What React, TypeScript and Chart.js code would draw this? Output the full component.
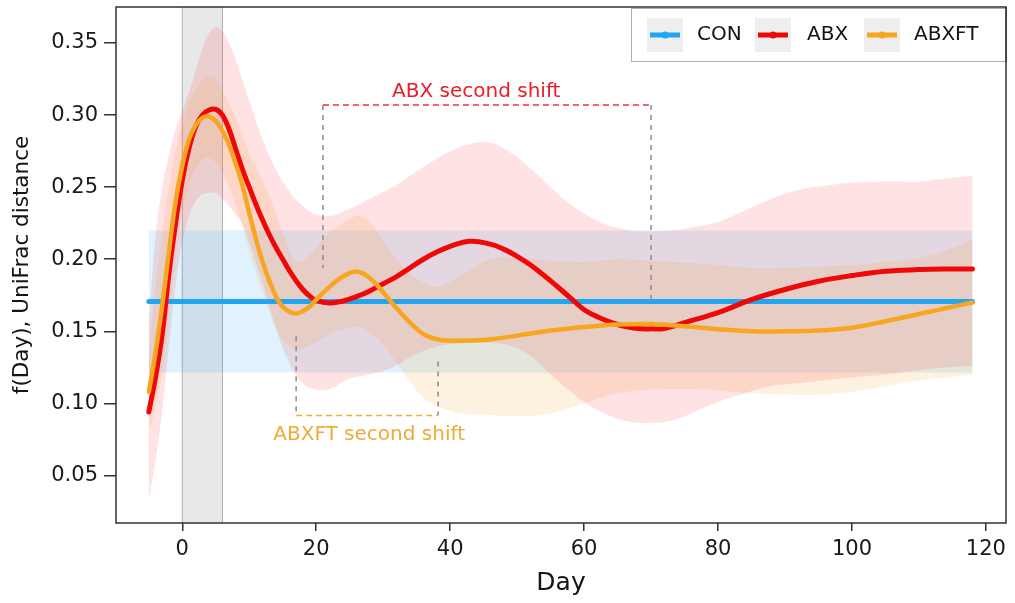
import React, { useEffect, useRef } from "react";
import { Chart, registerables } from "chart.js";
Chart.register(...registerables);

// ---------- axes ----------
const xTicks = [0, 20, 40, 60, 80, 100, 120];
const yTicks = [0.05, 0.1, 0.15, 0.2, 0.25, 0.3, 0.35];
const xMin = -9.9;
const xMax = 123;
const yMin = 0.017;
const yMax = 0.375;
const shadeDays = [0, 6];

// ---------- CON ----------
const conDays = [-5, 118];
const conMean = [0.1706, 0.1706];
const conUpper = [0.22, 0.22];
const conLower = [0.1215, 0.1215];

// ---------- ABX mean ----------
const abxDays = [-5, -4, -3, -2, -1, 0, 1, 2, 3, 4, 5, 6, 7, 8, 9, 10, 11, 12, 13, 14, 15, 16, 17, 18, 19, 20, 22, 24, 26, 28, 30, 32, 34, 36, 38, 40, 43, 46, 48, 50, 52, 55, 58, 60, 62, 65, 68, 70, 72, 75, 80, 85, 90, 95, 100, 105, 110, 114, 118];
const abxMean = [0.094, 0.118, 0.148, 0.19, 0.225, 0.255, 0.277, 0.292, 0.3, 0.3035, 0.304, 0.3, 0.29, 0.276, 0.262, 0.25, 0.238, 0.227, 0.217, 0.208, 0.2, 0.192, 0.185, 0.179, 0.1745, 0.1715, 0.1697, 0.171, 0.174, 0.178, 0.183, 0.188, 0.194, 0.2, 0.205, 0.209, 0.2125, 0.2105, 0.207, 0.202, 0.196, 0.185, 0.173, 0.165, 0.16, 0.1547, 0.152, 0.1517, 0.152, 0.156, 0.163, 0.172, 0.179, 0.1847, 0.1887, 0.1917, 0.1928, 0.1932, 0.1933];

// ---------- ABX band ----------
const abxBandDays = [-5, -4, -3, -2, -1, 0, 1, 2, 3, 4, 5, 6, 7, 8, 9, 10, 12, 14, 16, 18, 20, 22, 25, 28, 31, 34, 37, 40, 43, 46, 49, 52, 55, 58, 61, 64, 67, 70, 73, 76, 80, 84, 88, 92, 96, 100, 105, 110, 114, 118];
const abxUpper = [0.155, 0.215, 0.25, 0.272, 0.29, 0.303, 0.316, 0.331, 0.346, 0.357, 0.361, 0.358, 0.35, 0.338, 0.324, 0.31, 0.283, 0.262, 0.247, 0.237, 0.231, 0.23, 0.235, 0.242, 0.249, 0.258, 0.267, 0.275, 0.28, 0.281, 0.274, 0.263, 0.25, 0.238, 0.229, 0.223, 0.22, 0.2194, 0.22, 0.222, 0.226, 0.234, 0.242, 0.248, 0.251, 0.253, 0.254, 0.254, 0.256, 0.258];
const abxLower = [0.033, 0.06, 0.095, 0.14, 0.182, 0.212, 0.23, 0.24, 0.245, 0.246, 0.246, 0.242, 0.237, 0.231, 0.224, 0.212, 0.183, 0.152, 0.128, 0.114, 0.1095, 0.11, 0.117, 0.12, 0.124, 0.132, 0.138, 0.141, 0.142, 0.142, 0.14, 0.133, 0.12, 0.108, 0.098, 0.091, 0.087, 0.0865, 0.088, 0.093, 0.101, 0.107, 0.112, 0.114, 0.116, 0.118, 0.12, 0.123, 0.125, 0.126];

// ---------- ABXFT mean ----------
const abxftDays = [-5, -4, -3, -2, -1, 0, 1, 2, 3, 4, 5, 6, 7, 8, 9, 10, 11, 12, 13, 14, 15, 16, 17, 18, 19, 20, 22, 24, 26, 28, 30, 32, 34, 36, 38, 40, 45, 50, 55, 60, 65, 70, 75, 80, 85, 90, 95, 100, 105, 110, 114, 118];
const abxftMean = [0.108, 0.135, 0.168, 0.205, 0.24, 0.265, 0.283, 0.293, 0.298, 0.299, 0.296, 0.289, 0.279, 0.266, 0.251, 0.232, 0.214, 0.198, 0.185, 0.174, 0.167, 0.1635, 0.1623, 0.164, 0.167, 0.172, 0.181, 0.188, 0.1915, 0.187, 0.177, 0.166, 0.156, 0.148, 0.1445, 0.1435, 0.144, 0.147, 0.1505, 0.153, 0.1547, 0.155, 0.1535, 0.1515, 0.15, 0.15, 0.1505, 0.1525, 0.157, 0.162, 0.166, 0.17];

// ---------- ABXFT band ----------
const abxftBandDays = [-5, -4, -3, -2, -1, 0, 1, 2, 3, 4, 5, 6, 7, 8, 9, 10, 11, 12, 13, 14, 15, 17, 19, 21, 23, 26, 28, 30, 32, 34, 36, 38, 42, 46, 50, 55, 60, 65, 70, 75, 80, 85, 90, 95, 100, 105, 110, 114, 118];
const abxftUpper = [0.135, 0.18, 0.218, 0.25, 0.275, 0.294, 0.308, 0.318, 0.324, 0.327, 0.325, 0.317, 0.308, 0.298, 0.286, 0.274, 0.264, 0.255, 0.244, 0.231, 0.219, 0.198, 0.203, 0.214, 0.222, 0.23, 0.226, 0.213, 0.2, 0.19, 0.184, 0.181, 0.19, 0.2, 0.201, 0.199, 0.198, 0.2, 0.199, 0.1975, 0.196, 0.194, 0.194, 0.195, 0.196, 0.198, 0.201, 0.206, 0.2137];
const abxftLower = [0.08, 0.097, 0.122, 0.16, 0.2, 0.232, 0.252, 0.263, 0.269, 0.27, 0.267, 0.26, 0.25, 0.237, 0.222, 0.205, 0.19, 0.176, 0.163, 0.152, 0.144, 0.137, 0.14, 0.145, 0.15, 0.153, 0.149, 0.141, 0.128, 0.115, 0.104, 0.098, 0.093, 0.092, 0.091, 0.093, 0.1, 0.107, 0.1095, 0.11, 0.109, 0.107, 0.106, 0.106, 0.108, 0.112, 0.116, 0.118, 0.12];

// ---------- annotations ----------
const abxShiftDays = [21, 70];
const abxShiftTop = 0.307;
const abxShiftBottoms = [0.194, 0.1685];
const abxShiftLabel = "ABX second shift";
const abxShiftLabelAt = [43.9, 0.3163];

const abxftShiftDays = [17, 38.2];
const abxftShiftBottom = 0.0915;
const abxftShiftTops = [0.1465, 0.129];
const abxftShiftLabel = "ABXFT second shift";
const abxftShiftLabelAt = [27.9, 0.0783];

const legendNames = ["CON", "ABX", "ABXFT"];

const C_BLUE = "rgb(33,166,243)";
const C_RED = "rgb(240,8,8)";
const C_ORANGE = "rgb(246,166,32)";
const FONT = "'DejaVu Sans', sans-serif";

const pts = (xs: number[], ys: number[]) => xs.map((x, i) => ({ x, y: ys[i] }));

const overlay = {
  id: "overlay",
  beforeDatasetsDraw(chart: any) {
    const { ctx, chartArea: a, scales } = chart;
    const x = scales.x;
    const x0 = x.getPixelForValue(shadeDays[0]);
    const x1 = x.getPixelForValue(shadeDays[1]);
    ctx.save();
    ctx.fillStyle = "rgba(150,150,150,0.22)";
    ctx.fillRect(x0, a.top, x1 - x0, a.bottom - a.top);
    ctx.strokeStyle = "rgba(120,120,120,0.55)";
    ctx.lineWidth = 1;
    ctx.beginPath();
    ctx.moveTo(x0, a.top);
    ctx.lineTo(x0, a.bottom);
    ctx.moveTo(x1, a.top);
    ctx.lineTo(x1, a.bottom);
    ctx.stroke();
    ctx.restore();
  },
  afterDraw(chart: any) {
    const { ctx, chartArea: a, scales } = chart;
    const X = (v: number) => scales.x.getPixelForValue(v);
    const Y = (v: number) => scales.y.getPixelForValue(v);
    ctx.save();
    ctx.lineWidth = 1.5;
    ctx.setLineDash([5, 5]);
    ctx.strokeStyle = "rgb(140,140,140)";
    ctx.beginPath();
    ctx.moveTo(X(abxShiftDays[0]), Y(abxShiftTop));
    ctx.lineTo(X(abxShiftDays[0]), Y(abxShiftBottoms[0]));
    ctx.moveTo(X(abxShiftDays[1]), Y(abxShiftTop));
    ctx.lineTo(X(abxShiftDays[1]), Y(abxShiftBottoms[1]));
    ctx.moveTo(X(abxftShiftDays[0]), Y(abxftShiftTops[0]));
    ctx.lineTo(X(abxftShiftDays[0]), Y(abxftShiftBottom));
    ctx.moveTo(X(abxftShiftDays[1]), Y(abxftShiftTops[1]));
    ctx.lineTo(X(abxftShiftDays[1]), Y(abxftShiftBottom));
    ctx.stroke();
    ctx.setLineDash([6, 4]);
    ctx.strokeStyle = "rgb(232,50,60)";
    ctx.beginPath();
    ctx.moveTo(X(abxShiftDays[0]), Y(abxShiftTop));
    ctx.lineTo(X(abxShiftDays[1]), Y(abxShiftTop));
    ctx.stroke();
    ctx.strokeStyle = "rgb(240,172,60)";
    ctx.beginPath();
    ctx.moveTo(X(abxftShiftDays[0]), Y(abxftShiftBottom));
    ctx.lineTo(X(abxftShiftDays[1]), Y(abxftShiftBottom));
    ctx.stroke();
    ctx.setLineDash([]);
    ctx.font = `20px ${FONT}`;
    ctx.textAlign = "center";
    ctx.textBaseline = "middle";
    ctx.fillStyle = "rgb(232,30,40)";
    ctx.fillText(abxShiftLabel, X(abxShiftLabelAt[0]), Y(abxShiftLabelAt[1]));
    ctx.fillStyle = "rgb(240,170,55)";
    ctx.fillText(abxftShiftLabel, X(abxftShiftLabelAt[0]), Y(abxftShiftLabelAt[1]));

    // frame
    ctx.strokeStyle = "rgb(50,50,50)";
    ctx.lineWidth = 1.5;
    ctx.strokeRect(a.left, a.top, a.right - a.left, a.bottom - a.top);

    // legend
    const bw = 375;
    const bh = 54;
    const bx = a.right - bw;
    const by = a.top + 1;
    ctx.fillStyle = "#fff";
    ctx.fillRect(bx, by, bw, bh);
    ctx.strokeStyle = "rgb(175,175,175)";
    ctx.lineWidth = 1;
    ctx.strokeRect(bx + 0.5, by + 0.5, bw - 1, bh - 1);
    ctx.strokeStyle = "rgb(50,50,50)";
    ctx.lineWidth = 1.5;
    ctx.beginPath();
    ctx.moveTo(a.right, a.top);
    ctx.lineTo(a.right, by + bh);
    ctx.stroke();
    const colors = [C_BLUE, C_RED, C_ORANGE];
    const sw = [16, 124, 233];
    const tx = [66, 176, 283];
    ctx.font = `20px ${FONT}`;
    ctx.textAlign = "left";
    ctx.textBaseline = "middle";
    const cy = by + 27;
    legendNames.forEach((name, i) => {
      const sx = bx + sw[i];
      ctx.fillStyle = "rgb(238,238,238)";
      ctx.fillRect(sx, cy - 17, 36, 34);
      ctx.strokeStyle = colors[i];
      ctx.lineWidth = 5;
      ctx.lineCap = "butt";
      ctx.beginPath();
      ctx.moveTo(sx + 3, cy);
      ctx.lineTo(sx + 33, cy);
      ctx.stroke();
      ctx.fillStyle = colors[i];
      ctx.beginPath();
      ctx.arc(sx + 18, cy, 3.5, 0, Math.PI * 2);
      ctx.fill();
      ctx.fillStyle = "rgb(20,20,20)";
      ctx.fillText(name, bx + tx[i], cy);
    });
    ctx.restore();
  },
};

export default function App() {
  const ref = useRef<HTMLCanvasElement | null>(null);
  useEffect(() => {
    if (!ref.current) return;
    const line = (data: any, color: string, w: number) => ({
      data,
      borderColor: color,
      borderWidth: w,
      pointRadius: 0,
      fill: false,
      tension: 0.4,
      borderCapStyle: "round",
      borderJoinStyle: "round",
    });
    const bandEdge = (data: any, fill: any, bg: string) => ({
      data,
      borderWidth: 0,
      borderColor: "rgba(0,0,0,0)",
      backgroundColor: bg,
      pointRadius: 0,
      fill,
      tension: 0.4,
    });
    const chart = new Chart(ref.current, {
      type: "line",
      data: {
        datasets: [
          line(pts(abxftDays, abxftMean), C_ORANGE, 4.5),
          line(pts(abxDays, abxMean), C_RED, 5),
          line(pts(conDays, conMean), C_BLUE, 5),
          bandEdge(pts(abxBandDays, abxUpper), "+1", "rgba(255,40,50,0.13)"),
          bandEdge(pts(abxBandDays, abxLower), false, "rgba(0,0,0,0)"),
          bandEdge(pts(abxftBandDays, abxftUpper), "+1", "rgba(240,160,40,0.15)"),
          bandEdge(pts(abxftBandDays, abxftLower), false, "rgba(0,0,0,0)"),
          bandEdge(pts(conDays, conUpper), "+1", "rgba(40,165,240,0.15)"),
          bandEdge(pts(conDays, conLower), false, "rgba(0,0,0,0)"),
        ] as any,
      },
      options: {
        animation: false,
        responsive: false,
        devicePixelRatio: 1,
        layout: { padding: { top: 7, right: 9, left: 0, bottom: 0 } },
        plugins: { legend: { display: false }, tooltip: { enabled: false } },
        scales: {
          x: {
            type: "linear",
            min: xMin,
            max: xMax,
            afterBuildTicks: (s: any) => {
              s.ticks = xTicks.map((v) => ({ value: v }));
            },
            afterFit: (s: any) => {
              s.height = 80;
              s.paddingLeft = 0;
              s.paddingRight = 0;
            },
            border: { display: false },
            grid: { drawOnChartArea: false, drawTicks: true, tickLength: 8, color: "rgb(50,50,50)", lineWidth: 1.5 },
            ticks: { color: "rgb(25,25,25)", font: { family: FONT, size: 21 }, padding: 6, maxRotation: 0 },
            title: { display: true, text: "Day", color: "rgb(20,20,20)", font: { family: FONT, size: 25 }, padding: { top: 0, bottom: 5 } },
          },
          y: {
            type: "linear",
            min: yMin,
            max: yMax,
            afterBuildTicks: (s: any) => {
              s.ticks = yTicks.map((v) => ({ value: v }));
            },
            afterFit: (s: any) => {
              s.width = 116;
              s.paddingTop = 0;
              s.paddingBottom = 0;
            },
            border: { display: false },
            grid: { drawOnChartArea: false, drawTicks: true, tickLength: 12, color: "rgb(50,50,50)", lineWidth: 1.5 },
            ticks: { color: "rgb(25,25,25)", font: { family: FONT, size: 21 }, padding: 6, callback: (v: any) => Number(v).toFixed(2) },
            title: { display: true, text: "f(Day), UniFrac distance", color: "rgb(20,20,20)", font: { family: FONT, size: 21.5 }, padding: { top: 10, bottom: 0 } },
          },
        },
      },
      plugins: [overlay],
    } as any);
    return () => chart.destroy();
  }, []);
  return (
    <div style={{ position: "absolute", left: 0, top: 0, width: 1015, height: 603, background: "#fff" }}>
      <canvas ref={ref} width={1015} height={603} style={{ width: 1015, height: 603 }} />
    </div>
  );
}
